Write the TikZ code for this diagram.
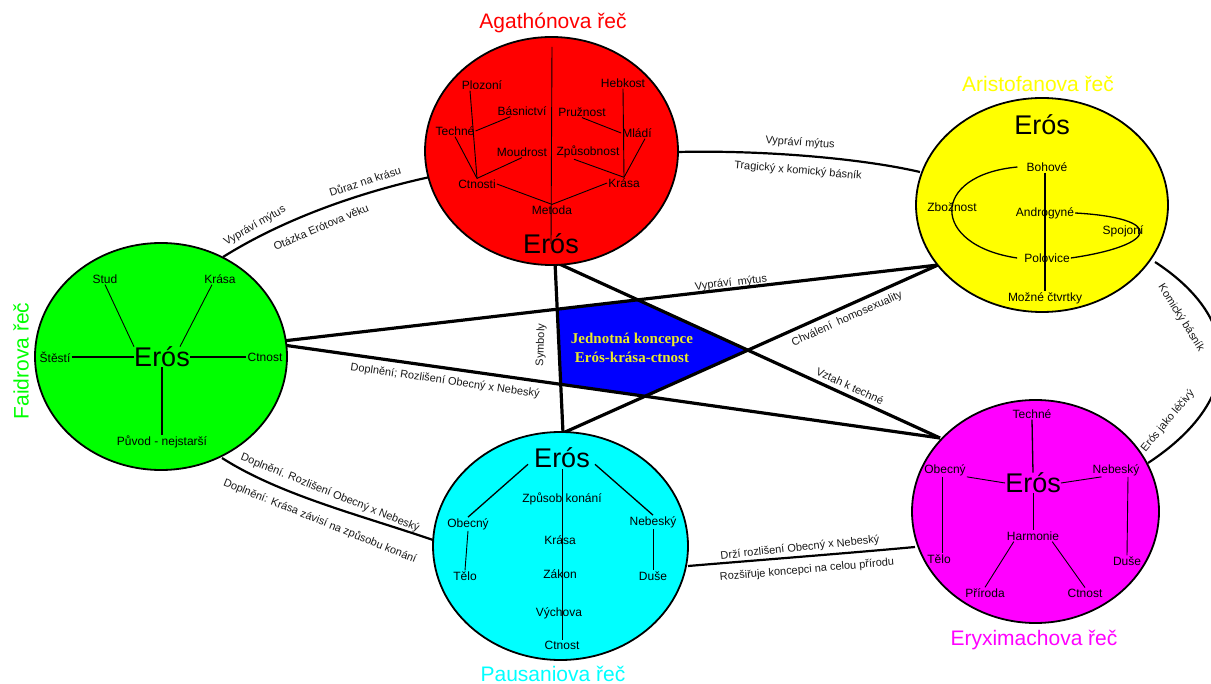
\documentclass[tikz,border=0pt]{standalone}
\usepackage{fontspec}
\setmainfont{Liberation Sans}
\newfontfamily\pentfont{Liberation Serif}
\usetikzlibrary{shapes.geometric,intersections}
\definecolor{cRed}{RGB}{255,0,0}
\definecolor{cYellow}{RGB}{255,255,0}
\definecolor{cGreen}{RGB}{0,255,0}
\definecolor{cCyan}{RGB}{0,255,255}
\definecolor{cMagenta}{RGB}{255,0,255}
\definecolor{cBlue}{RGB}{0,0,255}
\definecolor{cText}{RGB}{235,235,40}
\begin{document}
\begin{tikzpicture}[x=1pt,y=-1pt,
  bubble/.style={ellipse, draw=black, line width=1.8pt, inner sep=0pt},
  lbl/.style={font=\fontsize{12}{12}\selectfont, inner sep=1pt},
  eros/.style={font=\fontsize{27}{27}\selectfont, inner sep=0pt},
  ttl/.style={font=\fontsize{21}{21}\selectfont, inner sep=0pt},
  elbl/.style={font=\fontsize{11}{11}\selectfont, inner sep=0pt, text=black!90},
  inline/.style={line width=0.9pt},
  starline/.style={line width=3.2pt},
  arcline/.style={line width=2.2pt},
]
\useasboundingbox (0,0) rectangle (1211,684);

% ---------- pentagram end points ----------
\coordinate (aB) at (555,262);
\coordinate (pT) at (563,433);
\coordinate (fR1) at (283,341);
\coordinate (fR2) at (283,345);
\coordinate (arL) at (938,265);
\coordinate (eL) at (940,438);

\path[name path=l1] (aB) -- (pT);
\path[name path=l2] (fR1) -- (arL);
\path[name path=l3] (aB) -- (eL);
\path[name path=l4] (pT) -- (arL);
\path[name path=l5] (fR2) -- (eL);
\path[name intersections={of=l1 and l2,by=v1}];
\path[name intersections={of=l2 and l3,by=v2}];
\path[name intersections={of=l3 and l4,by=v3}];
\path[name intersections={of=l4 and l5,by=v4}];
\path[name intersections={of=l5 and l1,by=v5}];
\fill[cBlue] (v1) -- (v2) -- (v3) -- (v4) -- (v5) -- cycle;
\node[font=\pentfont\bfseries\fontsize{15}{19}\selectfont, text=cText, align=center, inner sep=0pt] (pent) at (632,348) {Jednotná koncepce\\Erós-krása-ctnost};

\draw[starline] (aB) -- (pT);
\draw[starline] (fR1) -- (arL);
\draw[starline] (aB) -- (eL);
\draw[starline] (pT) -- (arL);
\draw[starline] (fR2) -- (eL);

\node[elbl, rotate=6.7] (t1) at (731,283) {Vypráví \ mýtus};
\node[elbl, rotate=88] (t2) at (541,345) {Symboly};
\node[elbl, rotate=24.1] (t3) at (847,319) {Chválení \ homosexuality};
\node[elbl, rotate=-24.6] (t4) at (850,386) {Vztah k techné};
\node[elbl, rotate=-8.2] (t5) at (445,381) {Doplnění; Rozlišení Obecný x Nebeský};

% ---------- outer connectors ----------
\coordinate (faA) at (223,257);
\coordinate (agF) at (430,177);
\coordinate (agAr) at (678,152);
\coordinate (arAg) at (920,172);
\coordinate (arE) at (1155,262);
\coordinate (erAr) at (1148,463);
\coordinate (faP) at (222,458);
\coordinate (paF) at (433,540);
\coordinate (paE) at (688,566);
\coordinate (erP) at (915,547);

\draw[arcline] (faA) .. controls (290,215) and (370,190) .. (agF);
\draw[arcline] (agAr) .. controls (760,150) and (860,158) .. (arAg);
\draw[arcline] (arE) .. controls (1244,320) and (1244,400) .. (erAr);
\draw[arcline] (faP) .. controls (280,495) and (360,515) .. (paF);
\draw[arcline] (paE) .. controls (760,560) and (850,553) .. (erP);

\node[elbl, rotate=30] (e1) at (255,226) {Vypráví mýtus};
\node[elbl, rotate=18] (e2) at (365,181) {Důraz na krásu};
\node[elbl, rotate=23] (e3) at (321,227) {Otázka Erótova věku};
\node[elbl, rotate=-4] (e4) at (800,143) {Vypráví mýtus};
\node[elbl, rotate=-5] (e5) at (798,171) {Tragický x komický básník};
\node[elbl, rotate=-58] (e6) at (1181,318) {Komický básník};
\node[elbl, rotate=50] (e7) at (1168,421) {Erós jako léčivý};
\node[elbl, rotate=-22] (e8) at (330,493) {Doplnění. Rozlišení Obecný x Nebeský};
\node[elbl, rotate=-22] (e9) at (320,521) {Doplnění: Krása závisí na způsobu konání};
\node[elbl, rotate=6] (e10) at (800,548) {Drží rozlišení Obecný x Nebeský};
\node[elbl, rotate=5] (e11) at (807,570) {Rozšiřuje koncepci na celou přírodu};

% ---------- circles ----------
\node[bubble, fill=cRed, minimum width=253pt, minimum height=228pt] (agC) at (551.5,151) {};
\node[bubble, fill=cYellow, minimum width=252pt, minimum height=214pt] (arC) at (1042,205) {};
\node[bubble, fill=cGreen, minimum width=252pt, minimum height=227pt] (faC) at (161,356.5) {};
\node[bubble, fill=cCyan, minimum width=255pt, minimum height=228pt] (paC) at (560.5,546) {};
\node[bubble, fill=cMagenta, minimum width=247pt, minimum height=223pt] (erC) at (1035.5,511.5) {};

% ---------- titles ----------
\node[ttl, text=cRed] (agT) at (553,23) {Agathónova řeč};
\node[ttl, text=cYellow] (arT) at (1038,84) {Aristofanova řeč};
\node[ttl, text=cGreen, rotate=90] (faT) at (21,361) {Faidrova řeč};
\node[ttl, text=cCyan] (paT) at (553,674) {Pausaniova řeč};
\node[ttl, text=cMagenta] (erT) at (1034,640) {Eryximachova řeč};

% ---------- Agathon ----------
\coordinate (ag-top) at (552,47);
\node[eros] (ag-eros) at (551,244) {Erós};
\draw[inline] (ag-top) -- (ag-eros.center);
\node[lbl] (ag-plozoni) at (482,85) {Plozoní};
\node[lbl] (ag-hebkost) at (623,83) {Hebkost};
\node[lbl] (ag-basnictvi) at (522,111) {Básnictví};
\node[lbl] (ag-pruznost) at (582,112) {Pružnost};
\node[lbl] (ag-techne) at (455,131) {Techné};
\node[lbl] (ag-mladi) at (637,133) {Mládí};
\node[lbl] (ag-moudrost) at (522,152) {Moudrost};
\node[lbl] (ag-zpusobnost) at (588,152) {Způsobnost};
\node[lbl] (ag-ctnosti) at (477,184) {Ctnosti};
\node[lbl] (ag-krasa) at (624,183) {Krása};
\node[lbl] (ag-metoda) at (552,210) {Metoda};
\draw[inline] ([xshift=-12pt]ag-plozoni.south) -- (ag-ctnosti.north);
\draw[inline] ([xshift=14pt]ag-basnictvi.south west) -- (ag-techne.east);
\draw[inline] (ag-techne.south) -- (ag-ctnosti.north);
\draw[inline] (ag-moudrost.south) -- (ag-ctnosti.north);
\draw[inline] (ag-ctnosti.east) -- (ag-metoda.north);
\draw[inline] (ag-metoda.north) -- (ag-krasa.west);
\draw[inline] (ag-hebkost.south) -- (ag-krasa.north);
\draw[inline] (ag-pruznost.south) -- (ag-mladi.west);
\draw[inline] ([xshift=8pt]ag-mladi.south) -- (ag-krasa.north);
\draw[inline] ([xshift=-14pt]ag-zpusobnost.south) -- (ag-krasa.north);

% ---------- Aristofanes ----------
\node[eros] (ar-eros) at (1042,125) {Erós};
\node[lbl] (ar-bohove) at (1047,167) {Bohové};
\node[lbl] (ar-zboznost) at (952,207) {Zbožnost};
\node[lbl] (ar-androgyne) at (1045,213) {Androgyné};
\node[lbl] (ar-spojoni) at (1123,231) {Spojoní};
\node[lbl] (ar-polovice) at (1047,258) {Polovice};
\node[lbl] (ar-mozne) at (1045,298) {Možné čtvrtky};
\draw[line width=1.3pt] (ar-bohove.south -| ar-mozne.north) -- (ar-mozne.north);
\draw[line width=1.3pt] ([xshift=-8pt]ar-bohove.west) .. controls (930,175) and (930,245) .. ([xshift=-6pt]ar-polovice.west);
\draw[line width=1.3pt] (ar-androgyne.east) .. controls (1165,218) and (1160,245) .. (ar-polovice.east);

% ---------- Faidros ----------
\node[eros] (fa-eros) at (162,357) {Erós};
\node[lbl] (fa-stud) at (105,279) {Stud};
\node[lbl] (fa-krasa) at (220,279) {Krása};
\node[lbl] (fa-stesti) at (55,357) {Štěstí};
\node[lbl] (fa-ctnost) at (265,357) {Ctnost};
\node[lbl] (fa-puvod) at (162,442) {Původ - nejstarší};
\draw[inline] (fa-stud.south) -- (fa-eros.north west);
\draw[inline] ([xshift=-8pt]fa-krasa.south) -- ([xshift=-10pt]fa-eros.north east);
\draw[line width=1.3pt] (fa-stesti.east) -- (fa-eros.west);
\draw[line width=1.3pt] (fa-ctnost.west) -- (fa-eros.east);
\draw[line width=1.3pt] (fa-eros.south) -- (fa-puvod.north);

% ---------- Pausanias ----------
\node[eros] (pa-eros) at (562,458) {Erós};
\node[lbl] (pa-ctnost) at (562,645) {Ctnost};
\draw[inline] ([yshift=-1pt]pa-eros.south) -- (pa-ctnost.north);
\node[lbl] (pa-zpusob) at (562,499) {Způsob konání};
\node[lbl] (pa-obecny) at (468,524) {Obecný};
\node[lbl] (pa-nebesky) at (653,522) {Nebeský};
\node[lbl] (pa-krasa) at (560,540) {Krása};
\node[lbl] (pa-telo) at (465,576) {Tělo};
\node[lbl] (pa-zakon) at (560,574) {Zákon};
\node[lbl] (pa-duse) at (653,576) {Duše};
\node[lbl] (pa-vychova) at (559,613) {Výchova};
\draw[line width=1.3pt] ([xshift=-6pt,yshift=4pt]pa-eros.south west) -- (pa-obecny.north);
\draw[line width=1.3pt] ([xshift=5pt,yshift=4pt]pa-eros.south east) -- (pa-nebesky.north);
\draw[inline] (pa-obecny.south) -- (pa-telo.north);
\draw[inline] (pa-nebesky.south) -- (pa-duse.north);

% ---------- Eryximachos ----------
\node[eros] (er-eros) at (1033,483) {Erós};
\node[lbl] (er-techne) at (1032,414) {Techné};
\node[lbl] (er-obecny) at (945,470) {Obecný};
\node[lbl] (er-nebesky) at (1116,470) {Nebeský};
\node[lbl] (er-harmonie) at (1033,536) {Harmonie};
\node[lbl] (er-telo) at (939,559) {Tělo};
\node[lbl] (er-duse) at (1127,561) {Duše};
\node[lbl] (er-priroda) at (985,593) {Příroda};
\node[lbl] (er-ctnost) at (1085,593) {Ctnost};
\draw[line width=1.3pt] (er-techne.south) -- (er-eros.north);
\draw[inline] (er-obecny.south east) -- (er-eros.west);
\draw[inline] ([xshift=10pt]er-nebesky.south west) -- (er-eros.east);
\draw[inline] (er-eros.south) -- (er-harmonie.north);
\draw[inline] ([xshift=-3pt]er-obecny.south) -- ([xshift=3pt]er-telo.north);
\draw[inline] ([xshift=12pt]er-nebesky.south) -- (er-duse.north);
\draw[inline] ([xshift=8pt]er-harmonie.south west) -- (er-priroda.north);
\draw[inline] ([xshift=-8pt]er-harmonie.south east) -- (er-ctnost.north);
\end{tikzpicture}
\end{document}
